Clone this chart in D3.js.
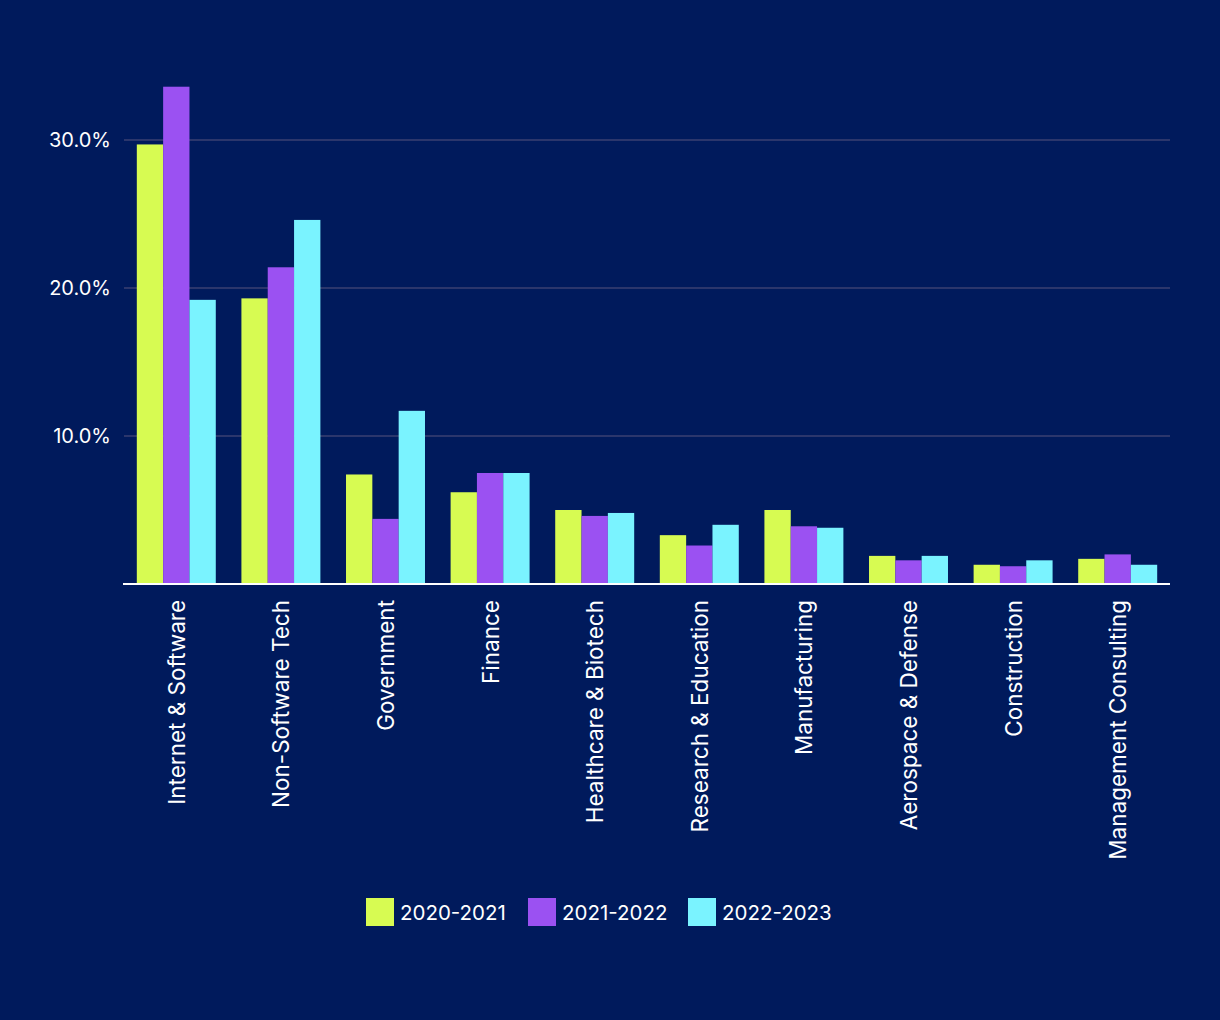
<!DOCTYPE html>
<html><head><meta charset="utf-8">
<script src="https://cdn.jsdelivr.net/npm/d3@7"></script>
<style>
html,body{margin:0;padding:0;background:#001A5C;}
svg{display:block;font-family:Inter,"Liberation Sans",Arial,sans-serif;}
</style></head>
<body>
<script>
const categories = ["Internet & Software","Non-Software Tech","Government","Finance","Healthcare & Biotech","Research & Education","Manufacturing","Aerospace & Defense","Construction","Management Consulting"];
const seriesNames = ["2020-2021","2021-2022","2022-2023"];
const values2020 = [29.7, 19.3, 7.4, 6.2, 5.0, 3.3, 5.0, 1.9, 1.3, 1.7];
const values2021 = [33.6, 21.4, 4.4, 7.5, 4.6, 2.6, 3.9, 1.6, 1.2, 2.0];
const values2022 = [19.2, 24.6, 11.7, 7.5, 4.8, 4.0, 3.8, 1.9, 1.6, 1.3];
const yTicks = [0.10, 0.20, 0.30];
const colors = ["#D7FB52", "#9B51F2", "#7AF3FF"];

const FONT = "Inter, Liberation Sans, Arial, sans-serif";
const W = 1220, H = 1020;
const svg = d3.select("body").append("svg").attr("width", W).attr("height", H);
svg.append("rect").attr("width", W).attr("height", H).attr("fill", "#001A5C");

const left = 124, right = 1170, y0 = 584;
const series = [values2020, values2021, values2022];

const x = d3.scaleBand().domain(categories).range([left, right]).paddingInner(0.245).paddingOuter(0.1225);
const xs = d3.scaleBand().domain(seriesNames).range([0, x.bandwidth()]);
const y = d3.scaleLinear().domain([0, 0.30]).range([y0, 140]);

// gridlines
svg.append("g").selectAll("line").data(yTicks).join("line")
  .attr("x1", left).attr("x2", right)
  .attr("y1", d => y(d)).attr("y2", d => y(d))
  .attr("stroke", "#3A4172").attr("stroke-width", 1.5);

// y axis labels
const yAxis = d3.axisLeft(y).tickValues(yTicks).tickFormat(d3.format(".1%")).tickSize(0).tickPadding(13);
const ya = svg.append("g").attr("transform", `translate(${left},0)`).call(yAxis);
ya.select(".domain").remove();
ya.selectAll("text").attr("fill", "#FFFFFF").attr("font-size", 20).attr("font-family", FONT);

// bars
const groups = svg.append("g").selectAll("g").data(categories).join("g")
  .attr("transform", d => `translate(${x(d)},0)`);
groups.selectAll("rect").data((d, i) => seriesNames.map((s, k) => ({s, v: series[k][i] / 100, k})))
  .join("rect")
  .attr("x", d => xs(d.s))
  .attr("width", xs.bandwidth())
  .attr("y", d => y(d.v))
  .attr("height", d => y0 - y(d.v))
  .attr("fill", d => colors[d.k]);

// baseline
svg.append("line").attr("x1", left - 1).attr("x2", right).attr("y1", y0).attr("y2", y0)
  .attr("stroke", "#FFFFFF").attr("stroke-width", 2);

// x axis labels
const xAxis = d3.axisBottom(x).tickSize(0).tickPadding(0);
const xa = svg.append("g").attr("transform", `translate(0,${y0})`).call(xAxis);
xa.select(".domain").remove();
xa.selectAll("text")
  .attr("fill", "#FFFFFF").attr("font-size", 22.5).attr("font-family", FONT)
  .attr("text-anchor", "end").attr("dy", null)
  .attr("transform", "translate(0,16) rotate(-90)")
  .attr("x", 0).attr("y", 0).attr("dominant-baseline", "central");

// legend
const legendX = [366, 528, 688];
const lg = svg.append("g").selectAll("g").data(seriesNames).join("g")
  .attr("transform", (d, i) => `translate(${legendX[i]},898)`);
lg.append("rect").attr("width", 28).attr("height", 28).attr("fill", (d, i) => colors[i]);
lg.append("text").attr("x", 34).attr("y", 14).attr("dominant-baseline", "central")
  .attr("fill", "#FFFFFF").attr("font-size", 20.5).attr("font-family", FONT).text(d => d);
</script>
</body></html>
